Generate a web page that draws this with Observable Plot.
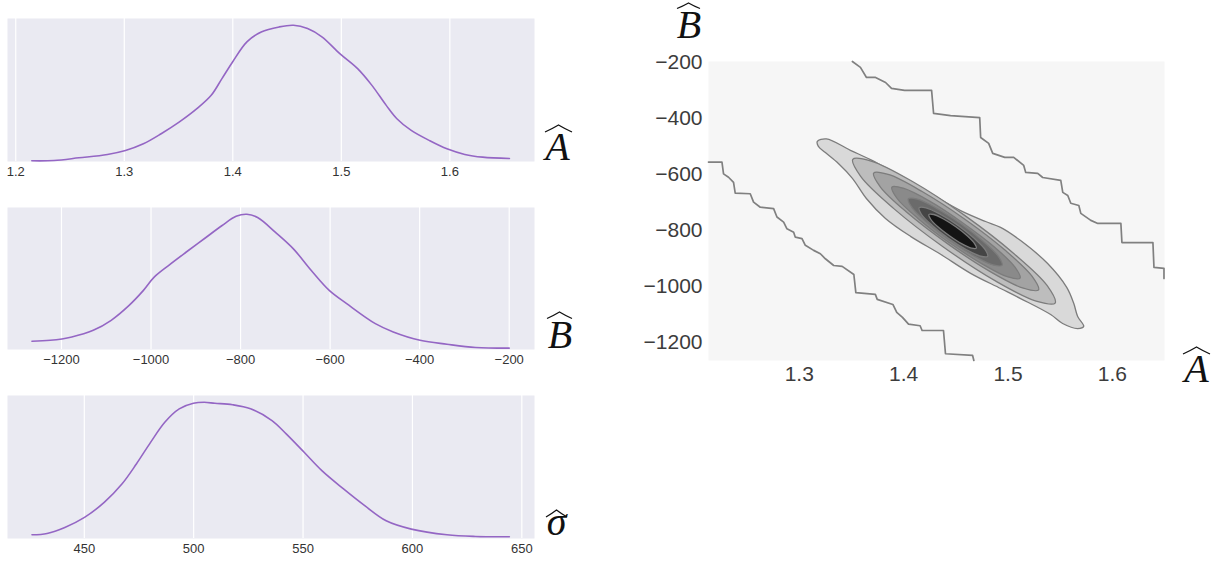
<!DOCTYPE html>
<html><head><meta charset="utf-8">
<script src="https://cdn.jsdelivr.net/npm/d3@7"></script>
<script src="https://cdn.jsdelivr.net/npm/@observablehq/plot@0.6"></script>
<style>
html,body{margin:0;padding:0;background:#fff;}
#root{position:relative;width:1231px;height:561px;overflow:hidden;background:#fff;}
#root svg{position:absolute;}
</style></head><body><div id="root"></div>
<script>
// ---- marginal densities (peak = 1) ----
const aKdeX = [1.2148,1.2353,1.2583,1.2845,1.3011,1.3176,1.3340,1.3505,1.3669,1.3801,1.3900,1.3998,1.4130,1.4262,1.4427,1.4559,1.4689,1.4821,1.4986,1.5150,1.5282,1.5414,1.5512,1.5644,1.5809,1.5973,1.6138,1.6302,1.6549];
const aKdeY = [0.005,0.007,0.027,0.052,0.081,0.130,0.204,0.289,0.388,0.486,0.609,0.731,0.878,0.951,0.988,1.0,0.976,0.915,0.792,0.682,0.559,0.412,0.314,0.228,0.155,0.093,0.052,0.032,0.022];
const bKdeX = [-1266,-1225,-1177,-1129,-1089,-1049,-1017,-993,-961,-922,-882,-842,-810,-786,-762,-722,-682,-642,-602,-563,-499,-459,-399,-339,-275,-200];
const bKdeY = [0.061,0.068,0.093,0.142,0.216,0.326,0.437,0.535,0.621,0.719,0.817,0.915,0.985,1.0,0.976,0.866,0.744,0.584,0.437,0.339,0.191,0.130,0.068,0.039,0.015,0.010];
const sKdeX = [426.1,433.0,441.1,450.1,459.1,467.2,473.8,480.3,486.8,493.4,499.9,504.8,509.7,517.8,526.0,535.8,542.3,550.5,558.6,568.5,578.2,588.0,599.5,615.8,628.8,644.3];
const sKdeY = [0.027,0.037,0.081,0.155,0.265,0.400,0.547,0.706,0.854,0.952,0.993,1.0,0.993,0.982,0.952,0.866,0.768,0.633,0.498,0.364,0.241,0.130,0.069,0.027,0.015,0.013];

// ---- tick labels ----
const aTicks = [1.2,1.3,1.4,1.5,1.6];
const bTicks = [-1200,-1000,-800,-600,-400,-200];
const sTicks = [450,500,550,600,650];
const jointXTicks = [1.3,1.4,1.5,1.6];
const jointYTicks = [-200,-400,-600,-800,-1000,-1200];

// ---- joint density contours (A, B) ----
const upperStairA = [1.3509,1.3586,1.3644,1.3731,1.3827,1.3884,1.4009,1.4268,1.4287,1.4450,1.4729,1.4738,1.4815,1.4854,1.4969,1.5055,1.5151,1.5170,1.5285,1.5333,1.5506,1.5525,1.5573,1.5602,1.5679,1.5698,1.5794,1.5861,1.6082,1.6092,1.6389,1.6399,1.6495,1.6495];
const upperStairB = [-198,-219,-255,-255,-273,-294,-301,-301,-383,-391,-398,-469,-490,-526,-540,-540,-569,-594,-597,-612,-622,-665,-676,-704,-712,-740,-765,-776,-776,-844,-844,-933,-936,-972];
const lowerStairA = [1.2130,1.2259,1.2274,1.2322,1.2370,1.2386,1.2530,1.2562,1.2626,1.2754,1.2786,1.2850,1.2882,1.2946,1.2962,1.3026,1.3058,1.3138,1.3202,1.3250,1.3330,1.3411,1.3523,1.3542,1.3729,1.3747,1.3897,1.3934,1.3989,1.4047,1.4158,1.4177,1.4382,1.4401,1.4661,1.4673];
const lowerStairB = [-557,-557,-599,-611,-629,-668,-670,-700,-718,-723,-753,-771,-795,-807,-825,-830,-854,-872,-884,-902,-926,-929,-958,-1023,-1029,-1047,-1065,-1093,-1111,-1135,-1141,-1158,-1158,-1241,-1247,-1265];

const ring2A = [1.3173,1.3260,1.3490,1.3682,1.3874,1.4085,1.4306,1.4546,1.4785,1.4929,1.5121,1.5380,1.5563,1.5630,1.5668,1.5726,1.5668,1.5524,1.5409,1.5121,1.4929,1.4642,1.4354,1.4066,1.3826,1.3643,1.3509,1.3375,1.3250,1.3183];
const ring2B = [-483,-474,-515,-548,-587,-633,-680,-730,-769,-790,-837,-919,-1004,-1061,-1108,-1143,-1151,-1133,-1101,-1044,-1008,-954,-886,-822,-758,-687,-615,-562,-523,-501];
const ring3A = [1.5452,1.5376,1.5058,1.4588,1.4089,1.3696,1.3513,1.3590,1.3906,1.4377,1.4875,1.5270];
const ring3B = [-1060,-998,-884,-748,-627,-554,-547,-609,-723,-859,-980,-1053];
const ring4A = [1.5293,1.5230,1.4971,1.4587,1.4181,1.3861,1.3713,1.3778,1.4036,1.4420,1.4826,1.5147];
const ring4B = [-1013,-964,-871,-761,-663,-602,-596,-646,-738,-848,-947,-1007];
const ring5A = [1.5116,1.5067,1.4867,1.4568,1.4253,1.4003,1.3888,1.3936,1.4137,1.4435,1.4751,1.5000];
const ring5B = [-971,-932,-859,-774,-697,-651,-646,-686,-758,-844,-920,-967];
const ring6A = [1.4944,1.4911,1.4767,1.4549,1.4318,1.4132,1.4045,1.4077,1.4221,1.4438,1.4670,1.4856];
const ring6B = [-925,-895,-841,-777,-722,-689,-688,-718,-772,-836,-891,-924];
const ring7A = [1.4805,1.4783,1.4679,1.4522,1.4350,1.4214,1.4148,1.4170,1.4274,1.4433,1.4603,1.4739];
const ring7B = [-893,-870,-830,-783,-743,-720,-720,-743,-783,-830,-870,-893];
const ring8A = [1.4696,1.4680,1.4609,1.4500,1.4382,1.4288,1.4242,1.4258,1.4328,1.4439,1.4555,1.4650];
const ring8B = [-864,-848,-820,-788,-760,-744,-744,-760,-788,-820,-848,-864];
const ringFills = ["#d9d9d9","#bdbdbd","#a3a3a3","#8a8a8a","#6b6b6b","#454545","#141414"];

// ---- build ----
const root = document.getElementById("root");
const zip = (xs, ys) => xs.map((x, i) => ({x, y: ys[i]}));
const fontFam = "'Liberation Sans', Arial, Helvetica, sans-serif";

function panel(data, ticks, fmt, domain, frameTop, frameH) {
  const mt = 10, mb = 24;
  const svg = Plot.plot({
    width: 540, height: mt + frameH + mb,
    marginLeft: 7, marginRight: 6, marginTop: mt, marginBottom: mb,
    x: {domain}, y: {domain: [0, 1.05], axis: null},
    style: {fontFamily: fontFam, fontSize: "13px", color: "#333", background: "transparent", overflow: "visible"},
    marks: [
      Plot.frame({fill: "#EAEAF2", stroke: "none"}),
      Plot.gridX(ticks, {stroke: "#ffffff", strokeOpacity: 1, strokeWidth: 1.2}),
      Plot.axisX(ticks, {tickSize: 0, tickPadding: 5, tickFormat: fmt, label: null, fontSize: 13}),
      Plot.line(data, {x: "x", y: "y", stroke: "#9466c4", strokeWidth: 1.6, curve: "catmull-rom"})
    ]
  });
  svg.style.left = "0px";
  svg.style.top = (frameTop - mt) + "px";
  root.appendChild(svg);
}
panel(zip(aKdeX, aKdeY), aTicks, d3.format(".1f"), [1.1924, 1.678], 18, 143);
panel(zip(bKdeX, bKdeY), bTicks, d3.format("d"), [-1320.6, -143.5], 207, 142);
panel(zip(sKdeX, sKdeY), sTicks, d3.format("d"), [414.9, 655.8], 395, 143);

const rings = [[ring2A, ring2B], [ring3A, ring3B], [ring4A, ring4B], [ring5A, ring5B], [ring6A, ring6B], [ring7A, ring7B], [ring8A, ring8B]];
const joint = Plot.plot({
  width: 600, height: 360,
  marginLeft: 108, marginRight: 36, marginTop: 21, marginBottom: 40,
  x: {domain: [1.213, 1.650]}, y: {domain: [-1265, -198]},
  style: {fontFamily: fontFam, fontSize: "21px", color: "#3c3c3c", background: "transparent", overflow: "visible"},
  marks: [
    Plot.frame({fill: "#F6F6F6", stroke: "none"}),
    Plot.line(zip(upperStairA, upperStairB), {x: "x", y: "y", stroke: "#808080", strokeWidth: 1.7}),
    Plot.line(zip(lowerStairA, lowerStairB), {x: "x", y: "y", stroke: "#808080", strokeWidth: 1.7}),
    ...rings.map(([ra, rb], i) => Plot.line(zip(ra, rb), {x: "x", y: "y", fill: ringFills[i], stroke: "#7c7c7c", strokeWidth: 1.3, curve: "catmull-rom-closed"})),
    Plot.axisX(jointXTicks, {tickSize: 0, tickPadding: 6, tickFormat: d3.format(".1f"), label: null, fontSize: 21}),
    Plot.axisY(jointYTicks, {tickSize: 0, tickPadding: 6, tickFormat: d3.format("d"), label: null, fontSize: 21})
  ]
});
joint.style.left = "600px";
joint.style.top = "40px";
root.appendChild(joint);

// ---- math labels (letter + wide hat) ----
const ns = "http://www.w3.org/2000/svg";
const over = document.createElementNS(ns, "svg");
over.setAttribute("width", 1231); over.setAttribute("height", 561);
over.style.left = "0px"; over.style.top = "0px"; over.style.pointerEvents = "none";
root.appendChild(over);
function mathLabel(ch, cx, base, hx0, hx1, hy0, hy1) {
  const t = document.createElementNS(ns, "text");
  t.setAttribute("x", cx); t.setAttribute("y", base);
  t.setAttribute("text-anchor", "middle");
  t.setAttribute("font-family", "'Liberation Serif', 'DejaVu Serif', serif");
  t.setAttribute("font-style", "italic");
  t.setAttribute("font-size", 40);
  t.setAttribute("fill", "#111");
  t.textContent = ch;
  over.appendChild(t);
  const p = document.createElementNS(ns, "path");
  const xm = (hx0 + hx1) / 2;
  p.setAttribute("d", `M${hx0},${hy1} Q${(hx0 + xm) / 2},${(hy0 + hy1) / 2 + 0.5} ${xm},${hy0} Q${(xm + hx1) / 2},${(hy0 + hy1) / 2 + 0.5} ${hx1},${hy1}`);
  p.setAttribute("fill", "none"); p.setAttribute("stroke", "#111"); p.setAttribute("stroke-width", 1.3);
  over.appendChild(p);
}
mathLabel("A", 557.5, 160, 545, 572, 125, 132);
mathLabel("B", 560, 348, 547, 572, 312, 318.5);
mathLabel("σ", 556.5, 535, 546, 567, 510, 517);
mathLabel("B", 689, 38, 677, 700, 3, 8.5);
mathLabel("A", 1196.5, 382, 1183, 1210, 347, 354);
</script></body></html>
